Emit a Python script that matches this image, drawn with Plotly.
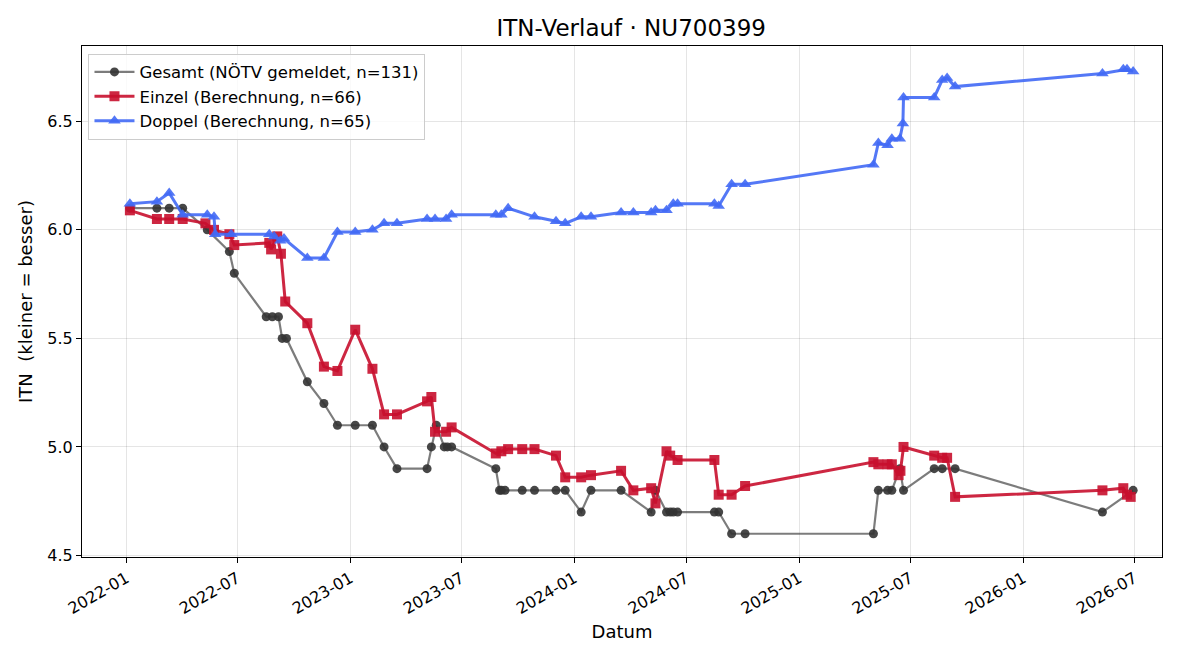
import plotly.graph_objects as go

gesamt_dates = ["2022-01-07","2022-02-20","2022-03-12","2022-04-03","2022-05-13","2022-06-18","2022-06-26",
"2022-08-17","2022-08-27","2022-09-06","2022-09-12","2022-09-19","2022-10-23","2022-11-19","2022-12-11",
"2023-01-09","2023-02-06","2023-02-25","2023-03-18","2023-05-06","2023-05-13","2023-05-21","2023-06-03",
"2023-06-08","2023-06-15","2023-08-26","2023-09-01","2023-09-04","2023-09-10","2023-10-08","2023-10-28",
"2023-12-02","2023-12-17","2024-01-12","2024-01-28","2024-03-17","2024-05-05","2024-05-12","2024-05-30",
"2024-06-05","2024-06-10","2024-06-17","2024-08-16","2024-08-23","2024-09-13","2024-10-05","2025-05-02",
"2025-05-10","2025-05-25","2025-06-01","2025-06-14","2025-06-20","2025-08-09","2025-08-22","2025-09-12",
"2026-05-10","2026-06-29"]
gesamt_vals = [6.1,6.1,6.1,6.1,6.0,5.9,5.8,
5.6,5.6,5.6,5.5,5.5,5.3,5.2,5.1,
5.1,5.1,5.0,4.9,4.9,5.0,5.1,5.0,
5.0,5.0,4.9,4.8,4.8,4.8,4.8,4.8,
4.8,4.8,4.7,4.8,4.8,4.7,4.8,4.7,
4.7,4.7,4.7,4.7,4.7,4.6,4.6,4.6,
4.8,4.8,4.8,4.9,4.8,4.9,4.9,4.9,
4.7,4.8]

einzel_dates = ["2022-01-07","2022-02-20","2022-03-12","2022-04-03","2022-05-10","2022-05-24","2022-06-18",
"2022-06-26","2022-08-22","2022-08-25","2022-09-04","2022-09-10","2022-09-17","2022-10-23","2022-11-19",
"2022-12-11","2023-01-09","2023-02-06","2023-02-25","2023-03-18","2023-05-06","2023-05-13","2023-05-19",
"2023-06-06","2023-06-15","2023-08-26","2023-09-04","2023-09-15","2023-10-08","2023-10-28","2023-12-02",
"2023-12-17","2024-01-12","2024-01-28","2024-03-17","2024-04-06","2024-05-05","2024-05-12","2024-05-30",
"2024-06-05","2024-06-17","2024-08-16","2024-08-23","2024-09-13","2024-10-05","2025-05-02","2025-05-10",
"2025-05-25","2025-06-01","2025-06-12","2025-06-15","2025-06-20","2025-08-09","2025-08-22","2025-08-30",
"2025-09-12","2026-05-10","2026-06-13","2026-06-19","2026-06-25"]
einzel_vals = [6.09,6.05,6.05,6.05,6.03,6.00,5.98,
5.93,5.94,5.91,5.97,5.89,5.67,5.57,5.37,
5.35,5.54,5.36,5.15,5.15,5.21,5.23,5.07,
5.07,5.09,4.97,4.98,4.99,4.99,4.99,4.96,
4.86,4.86,4.87,4.89,4.80,4.81,4.74,4.98,
4.96,4.94,4.94,4.78,4.78,4.82,4.93,4.92,
4.92,4.92,4.87,4.89,5.00,4.96,4.95,4.95,
4.77,4.80,4.81,4.78,4.77]

doppel_dates = ["2022-01-07","2022-02-20","2022-03-12","2022-04-03","2022-05-13","2022-05-24","2022-05-26",
"2022-06-21","2022-08-22","2022-08-30","2022-09-09","2022-09-15","2022-10-23","2022-11-19","2022-12-11",
"2023-01-09","2023-02-06","2023-02-25","2023-03-18","2023-05-06","2023-05-19","2023-06-06","2023-06-15",
"2023-08-26","2023-09-04","2023-09-15","2023-10-28","2023-12-02","2023-12-17","2024-01-12","2024-01-28",
"2024-03-17","2024-04-06","2024-05-05","2024-05-12","2024-05-30","2024-06-10","2024-06-17","2024-08-16",
"2024-08-23","2024-09-13","2024-10-05","2025-05-02","2025-05-10","2025-05-25","2025-06-01","2025-06-14",
"2025-06-19","2025-06-20","2025-08-09","2025-08-22","2025-08-30","2025-09-12","2026-05-10","2026-06-13",
"2026-06-19","2026-06-29"]
doppel_vals = [6.12,6.13,6.17,6.07,6.07,6.06,5.98,
5.98,5.98,5.97,5.95,5.96,5.87,5.87,5.99,
5.99,6.00,6.03,6.03,6.05,6.05,6.05,6.07,
6.07,6.07,6.10,6.06,6.04,6.03,6.06,6.06,
6.08,6.08,6.08,6.09,6.09,6.12,6.12,6.12,
6.11,6.21,6.21,6.30,6.40,6.39,6.42,6.42,
6.49,6.61,6.61,6.69,6.70,6.66,6.72,6.74,
6.74,6.73]

tick_vals = ["2022-01-01","2022-07-01","2023-01-01","2023-07-01","2024-01-01","2024-07-01",
             "2025-01-01","2025-07-01","2026-01-01","2026-07-01"]
tick_text = ["2022-01","2022-07","2023-01","2023-07","2024-01","2024-07",
             "2025-01","2025-07","2026-01","2026-07"]

FONT = "DejaVu Sans"
fig = go.Figure()
fig.add_trace(go.Scatter(
    x=gesamt_dates, y=gesamt_vals, mode="lines+markers",
    name="Gesamt (NÖTV gemeldet, n=131)",
    line=dict(color="rgba(68,68,68,0.7)", width=2.2),
    marker=dict(symbol="circle", size=9, color="rgba(51,51,51,0.9)", line=dict(width=0))))
fig.add_trace(go.Scatter(
    x=einzel_dates, y=einzel_vals, mode="lines+markers",
    name="Einzel (Berechnung, n=66)",
    line=dict(color="rgba(200,16,46,0.9)", width=3),
    marker=dict(symbol="square", size=10, color="rgba(200,16,46,0.9)", line=dict(width=0))))
fig.add_trace(go.Scatter(
    x=doppel_dates, y=doppel_vals, mode="lines+markers",
    name="Doppel (Berechnung, n=65)",
    line=dict(color="rgba(65,105,245,0.9)", width=3),
    marker=dict(symbol="triangle-up", size=11, color="rgba(65,105,245,0.9)", line=dict(width=0))))

axis_common = dict(showline=True, linecolor="black", linewidth=1, mirror=True,
                   ticks="outside", ticklen=5, tickcolor="black",
                   showgrid=True, gridcolor="rgba(0,0,0,0.1)", gridwidth=1, zeroline=False,
                   tickfont=dict(family=FONT, size=16, color="black"))

fig.update_layout(
    width=1200, height=660,
    paper_bgcolor="white", plot_bgcolor="white",
    margin=dict(l=82, r=38, t=46, b=103),
    font=dict(family=FONT, size=16, color="black"),
    title=dict(text="ITN-Verlauf · NU700399", x=0.526, xanchor="center", y=0.957, yanchor="middle",
               font=dict(family=FONT, size=23, color="black")),
    xaxis=dict(range=["2021-10-21", "2026-08-15"], tickvals=tick_vals, ticktext=tick_text,
               tickangle=-30, title=dict(text="Datum", font=dict(family=FONT, size=18), standoff=8),
               **axis_common),
    yaxis=dict(range=[4.493, 6.847], tickvals=[4.5, 5.0, 5.5, 6.0, 6.5], tickformat=".1f",
               title=dict(text="ITN  (kleiner = besser)", font=dict(family=FONT, size=18), standoff=10),
               **axis_common),
    legend=dict(x=0.006, y=0.985, xanchor="left", yanchor="top",
                bgcolor="rgba(255,255,255,0.8)", bordercolor="rgba(204,204,204,1)", borderwidth=1,
                font=dict(family=FONT, size=16.5, color="black"), itemwidth=40, tracegroupgap=2),
    showlegend=True,
)

fig.write_html("out.html")
